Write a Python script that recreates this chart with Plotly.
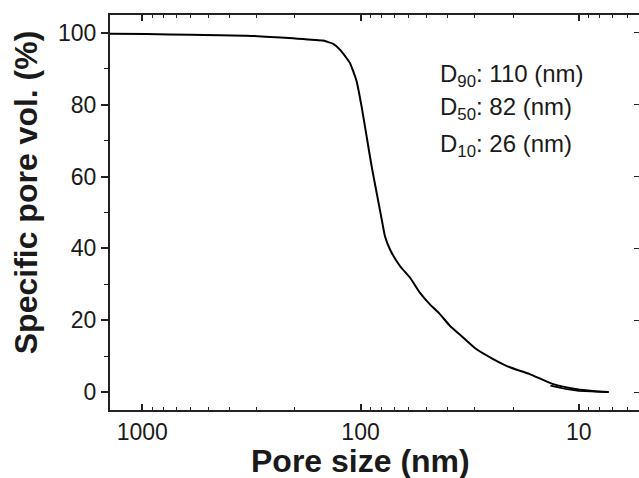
import math
import plotly.graph_objects as go

# Data (cumulative pore volume curve, intrusion branch)
pore_size_nm = [1406, 955, 600, 332, 204, 148.7, 143, 134, 124, 117.9, 111.8, 108.0, 104.2, 98.9, 93.8,
                89.0, 84.4, 80.0, 77.3, 73.3, 66.0, 59.4, 53.5, 48.1, 43.3, 38.9, 33.9, 29.4, 24.7,
                20.7, 16.8, 13.1, 10.2, 8.6, 7.3]
spec_pore_vol = [99.8, 99.7, 99.5, 99.25, 98.5, 97.9, 97.6, 97.0, 95.3, 93.6, 91.6, 89.3, 86.5, 79.5, 71.2,
                 62.9, 55.5, 48.1, 43.4, 39.7, 35.1, 31.9, 27.7, 24.4, 21.7, 18.4, 15.2, 11.9, 9.2,
                 6.9, 5.0, 2.2, 0.8, 0.3, 0.0]
# short return branch near the small-pore end
return_size_nm = [7.3, 8.5, 10.0, 11.5, 13.5]
return_pore_vol = [0.0, 0.05, 0.3, 0.9, 1.8]

x_ticks = [1000, 100, 10]
x_tick_labels = ["1000", "100", "10"]
y_ticks = [0, 20, 40, 60, 80, 100]
stats_labels = ["D<sub>90</sub>: 110 (nm)", "D<sub>50</sub>: 82 (nm)", "D<sub>10</sub>: 26 (nm)"]
x_title = "<b>Pore size (nm)</b>"
y_title = "<b>Specific pore vol. (%)</b>"

minor_x = [m * 10 ** k for k in range(0, 4) for m in range(2, 10)]

FONT = "Arial, Liberation Sans, sans-serif"
INK = "#1a1a1a"

fig = go.Figure()
fig.add_trace(go.Scatter(x=pore_size_nm, y=spec_pore_vol, mode="lines",
                         line=dict(color="black", width=2, shape="spline", smoothing=0.6),
                         showlegend=False))
fig.add_trace(go.Scatter(x=return_size_nm, y=return_pore_vol, mode="lines",
                         line=dict(color="black", width=1.8), showlegend=False))
# invisible companion trace to anchor the right-hand tick axis
fig.add_trace(go.Scatter(x=pore_size_nm, y=spec_pore_vol, mode="lines", yaxis="y2",
                         line=dict(color="rgba(0,0,0,0)", width=0), showlegend=False, hoverinfo="skip"))

xr = [math.log10(1406), math.log10(5.3)]

fig.update_layout(
    width=639, height=478,
    margin=dict(l=110, r=0, t=15, b=68),
    paper_bgcolor="white", plot_bgcolor="white",
    font=dict(family=FONT, color=INK),
    xaxis=dict(type="log", range=xr, tickvals=x_ticks, ticktext=x_tick_labels, automargin=False,
               ticks="inside", ticklen=6, tickwidth=1.5, tickcolor="#222",
               showline=True, linewidth=2, linecolor="#222", mirror="ticks",
               showgrid=False, zeroline=False,
               tickfont=dict(size=23, family=FONT),
               minor=dict(tickvals=minor_x, ticks="inside", ticklen=3, tickwidth=1.2, tickcolor="#222", showgrid=False)),
    yaxis=dict(range=[-5, 105], tickvals=y_ticks, automargin=False,
               ticks="outside", ticklen=7, tickwidth=1.5, tickcolor="#222",
               showline=True, linewidth=2, linecolor="#222",
               showgrid=False, zeroline=False,
               tickfont=dict(size=23, family=FONT),
               minor=dict(dtick=10, ticks="outside", ticklen=4, tickwidth=1.2, tickcolor="#222", showgrid=False)),
    yaxis2=dict(range=[-5, 105], overlaying="y", side="right", tickvals=y_ticks, automargin=False,
                ticks="inside", ticklen=5, tickwidth=1.2, tickcolor="#222",
                showline=False, showgrid=False, zeroline=False, showticklabels=False),
)

# axis titles (placed as paper annotations for exact positioning)
fig.add_annotation(text=x_title, xref="paper", yref="paper", x=0.4726, y=-0.129,
                   xanchor="center", yanchor="middle", showarrow=False,
                   font=dict(size=32, family=FONT, color=INK))
fig.add_annotation(text=y_title, xref="paper", yref="paper", x=-0.159, y=0.551, textangle=-90,
                   xanchor="center", yanchor="middle", showarrow=False,
                   font=dict(size=32, family=FONT, color=INK))

ys = [0.848, 0.763, 0.67]
for txt, yy in zip(stats_labels, ys):
    fig.add_annotation(text=txt, xref="paper", yref="paper", x=0.62, y=yy,
                       xanchor="left", yanchor="middle", showarrow=False,
                       font=dict(size=24, family=FONT, color=INK))

fig.write_html("out.html", config={"displayModeBar": False},
               post_script="document.body.style.margin='0';document.body.style.overflow='hidden';")
